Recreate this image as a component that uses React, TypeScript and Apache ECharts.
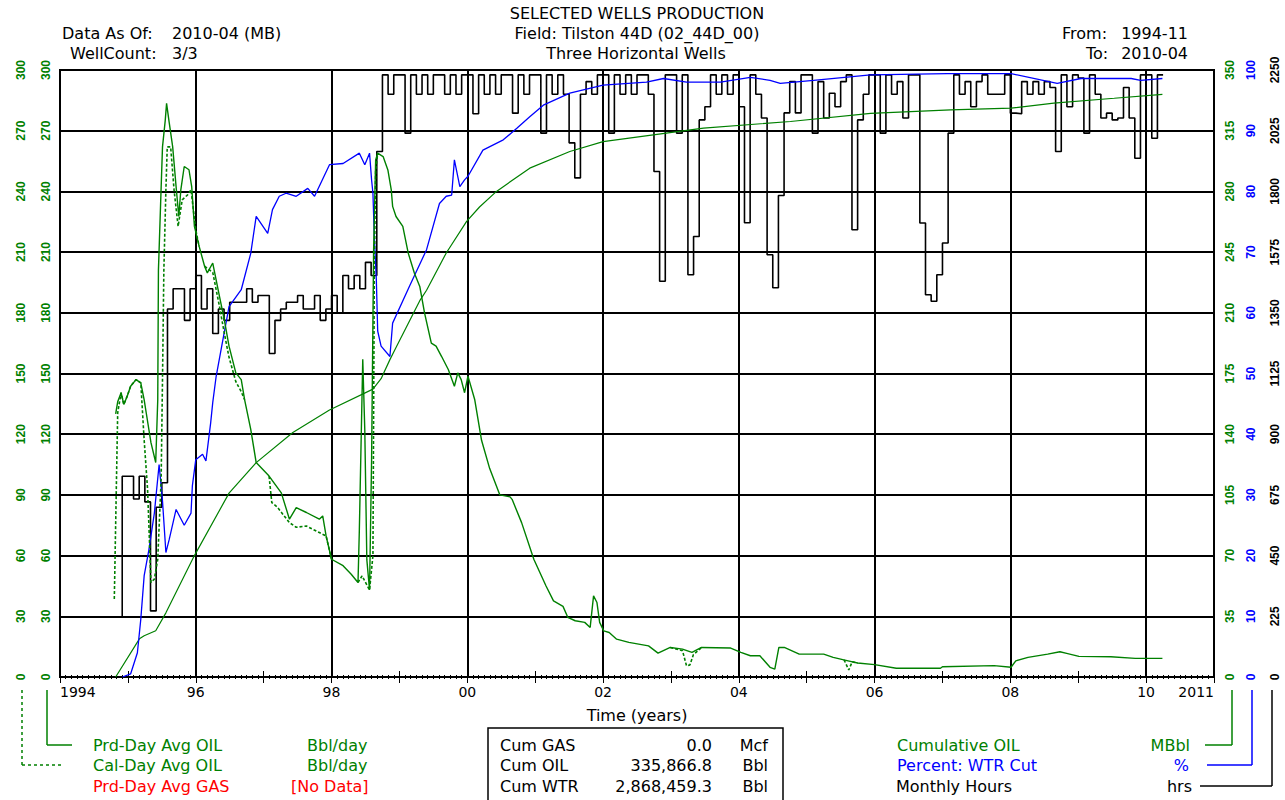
import React, { useEffect, useRef } from "react";
import * as echarts from "echarts";

const GREEN = "#008000";
const BLUE = "#0000ff";
const RED = "#ff0000";
const FONT = '"DejaVu Sans"';

// x-axis tick labels
const xTickYears = [1994, 1996, 1998, 2000, 2002, 2004, 2006, 2008, 2010, 2011];
const xTickLabels = ["1994", "96", "98", "00", "02", "04", "06", "08", "10", "2011"];

// Prd-Day Avg OIL (Bbl/day), [decimal year, value]
const oilPrdDay: [number, number][] = [
  [1994.82, 130], [1994.85, 136], [1994.9, 140.5], [1994.94, 134.7], [1994.99, 138.8], [1995.04, 143.7],
  [1995.12, 147], [1995.19, 145.4], [1995.24, 137], [1995.27, 130.6], [1995.34, 115.8], [1995.41, 106],
  [1995.44, 137], [1995.45, 201], [1995.49, 242], [1995.51, 262], [1995.55, 275], [1995.57, 283.5],
  [1995.61, 273.7], [1995.66, 262], [1995.71, 242.4], [1995.75, 227.6], [1995.78, 240.8], [1995.83, 252.3],
  [1995.9, 250.7], [1995.94, 242.4], [1995.98, 222.7], [1996.05, 212.8], [1996.13, 203], [1996.17, 199.7],
  [1996.25, 204.6], [1996.35, 188], [1996.42, 176.6], [1996.49, 163.5], [1996.59, 150.3], [1996.67, 147],
  [1996.72, 137], [1996.81, 122.4], [1996.89, 106], [1997.08, 99.3], [1997.26, 91], [1997.38, 78],
  [1997.48, 83.7], [1997.63, 81.3], [1997.82, 78], [1997.87, 79.6], [1997.92, 69.7], [1998.0, 58.2],
  [1998.17, 55], [1998.29, 50.8], [1998.39, 46.7], [1998.41, 73], [1998.46, 157], [1998.49, 122],
  [1998.52, 58], [1998.56, 43], [1998.59, 107], [1998.62, 211], [1998.65, 255.6], [1998.68, 258.9],
  [1998.76, 257.2], [1998.83, 250.6], [1998.88, 240.8], [1998.9, 232.6], [1998.95, 227.6], [1999.05, 222.7],
  [1999.13, 209.5], [1999.22, 199.7], [1999.3, 193], [1999.37, 180], [1999.47, 165], [1999.54, 163.5],
  [1999.62, 158.5], [1999.72, 152], [1999.81, 143.7], [1999.86, 150.3], [1999.91, 147], [1999.96, 140.5],
  [2000.01, 148.7], [2000.11, 137], [2000.21, 117], [2000.33, 103], [2000.48, 90], [2000.63, 89],
  [2000.66, 87.8], [2000.8, 76.3], [2000.98, 58.2], [2001.16, 45], [2001.27, 37.6], [2001.41, 34.9],
  [2001.48, 29.5], [2001.59, 27.8], [2001.73, 27], [2001.81, 24.5], [2001.86, 40.1], [2001.91, 36.8],
  [2001.95, 27], [2002.01, 22.8], [2002.09, 22], [2002.2, 18.7], [2002.38, 17.1], [2002.67, 15.4],
  [2002.81, 11.8], [2002.99, 14.6], [2003.17, 13.8], [2003.31, 12.2], [2003.45, 14.6], [2003.88, 14.3],
  [2004.03, 12.2], [2004.17, 10.5], [2004.31, 10.5], [2004.46, 4.8], [2004.53, 3.9], [2004.59, 14.6],
  [2004.67, 14.6], [2004.89, 11.3], [2005.25, 11.3], [2005.39, 9.7], [2005.61, 8], [2005.75, 6.9],
  [2006.0, 6.1], [2006.32, 4.3], [2006.97, 4.3], [2007.0, 5.1], [2007.76, 5.6], [2008.01, 4.8],
  [2008.08, 8], [2008.26, 9.7], [2008.55, 11.3], [2008.73, 12.5], [2008.83, 11.7], [2009.01, 10.2],
  [2009.48, 10], [2009.84, 9.2], [2010.24, 9.2],
];

// Cal-Day Avg OIL (Bbl/day): segments where it departs from the Prd-Day curve
const oilCalDaySegments: [number, number][][] = [
  [
    [1994.8, 38.5], [1994.85, 130.6], [1994.9, 140.5], [1994.94, 134.7], [1994.99, 138.8], [1995.04, 143.7],
    [1995.12, 147], [1995.19, 145.4], [1995.24, 117], [1995.29, 92.8], [1995.34, 46.7], [1995.39, 48.4],
    [1995.44, 58.2], [1995.49, 97.7], [1995.51, 147], [1995.53, 201], [1995.56, 240.8], [1995.58, 262],
    [1995.63, 262], [1995.68, 240.8], [1995.74, 222.7], [1995.8, 235.8], [1995.88, 238.3], [1995.93, 240.8],
    [1995.97, 229.3], [1996.0, 221], [1996.05, 212.8],
  ],
  [[1996.13, 203], [1996.25, 200], [1996.35, 183], [1996.42, 170], [1996.49, 158], [1996.59, 146], [1996.67, 141], [1996.72, 137]],
  [[1997.08, 99.3], [1997.12, 86.2], [1997.2, 84], [1997.38, 76.3], [1997.48, 74], [1997.63, 74.6], [1997.82, 71.4], [1997.92, 69.7], [1998.0, 58.2]],
  [[1998.39, 46.7], [1998.45, 50], [1998.56, 43], [1998.61, 60], [1998.63, 200], [1998.65, 250], [1998.68, 258.9]],
  [[2002.99, 14.6], [2003.17, 13], [2003.23, 5.5], [2003.28, 6], [2003.33, 11], [2003.45, 14.6]],
  [[2005.55, 8.5], [2005.62, 3.5], [2005.67, 7.5], [2005.75, 6.9]],
];

// Cumulative OIL (MBbl)
const cumOil: [number, number][] = [
  [1994.82, 0], [1995.17, 22], [1995.24, 23.8], [1995.41, 26.7], [1995.56, 37], [1995.98, 70],
  [1996.49, 106], [1996.89, 123.6], [1997.43, 141], [1997.97, 154], [1998.61, 166], [1998.73, 172],
  [1998.86, 183], [1998.95, 190], [1999.3, 217], [1999.4, 223], [1999.69, 244.5], [1999.99, 262.7],
  [2000.18, 271], [2000.43, 280], [2000.92, 293.4], [2001.51, 303], [2002.0, 308.7], [2002.74, 312.6],
  [2003.48, 316.5], [2004.76, 320.3], [2005.94, 325], [2007.12, 327], [2008.01, 328], [2008.64, 330.9],
  [2009.53, 333.7], [2010.24, 336],
];

// Percent WTR Cut (%)
const waterCut: [number, number][] = [
  [1994.92, 0], [1995.04, 0.5], [1995.14, 4], [1995.19, 9.5], [1995.24, 16.7], [1995.31, 21],
  [1995.39, 27], [1995.46, 35], [1995.51, 29], [1995.56, 20.5], [1995.61, 22.7], [1995.71, 27.6],
  [1995.83, 25], [1995.93, 27], [1995.95, 31.5], [1996.0, 35.8], [1996.1, 36.7], [1996.15, 35.6],
  [1996.22, 41.9], [1996.25, 45.2], [1996.3, 49.5], [1996.4, 55.6], [1996.49, 61], [1996.67, 63.8],
  [1996.81, 69.8], [1996.89, 75.9], [1997.06, 73.1], [1997.13, 77], [1997.23, 79.2], [1997.33, 79.7],
  [1997.48, 79.2], [1997.65, 80.5], [1997.75, 79.2], [1997.97, 84.4], [1998.17, 84.6], [1998.41, 86.3],
  [1998.49, 84.4], [1998.56, 86.3], [1998.59, 81.9], [1998.61, 79.7], [1998.63, 72.6], [1998.66, 65.5],
  [1998.68, 57], [1998.73, 54.5], [1998.86, 52.8], [1998.9, 58.3], [1999.15, 64.4], [1999.4, 70.4],
  [1999.59, 78], [1999.69, 79.2], [1999.77, 79.4], [1999.81, 85.2], [1999.89, 80.8], [1999.96, 81.9],
  [2000.01, 82.5], [2000.23, 86.8], [2000.53, 88.5], [2000.73, 90.4], [2000.92, 92.3], [2001.12, 94.2],
  [2001.51, 96.2], [2002.0, 97.5], [2002.64, 98], [2002.89, 98.6], [2003.23, 98], [2003.73, 98],
  [2004.17, 98.8], [2004.46, 98.3], [2004.61, 97.8], [2005.1, 98.3], [2005.94, 99.2], [2007.07, 99.4],
  [2008.01, 99.4], [2008.69, 97.8], [2009.04, 98.6], [2009.78, 98.6], [2009.92, 98.3], [2010.24, 98.6],
];

// Monthly Hours (hrs), one value per month from 1994-11 to 2010-04
const hoursStartYear = 1994;
const hoursStartMonth = 11;
const monthlyHours: number[] = [
  222, 744, // 1994 Nov-Dec
  744, 660, 744, 649, 245, 629, 720, 1364, 1439, 1439, 1322, 1439, // 1995
  1488, 1364, 1439, 1273, 1364, 1322, 1389, 1389, 1389, 1439, 1389, 1414, // 1996
  1414, 1199, 1322, 1364, 1389, 1389, 1414, 1364, 1364, 1414, 1322, 1364, // 1997
  1414, 1350, 1488, 1439, 1488, 1439, 1537, 1488, 1948, 2232, 2160, 2232, // 1998
  2232, 2016, 2232, 2160, 2232, 2160, 2232, 2232, 2160, 2232, 2160, 2232, // 1999
  2232, 2088, 2232, 2160, 2232, 2160, 2232, 2232, 2090, 2232, 2160, 2232, // 2000
  2232, 2016, 2232, 2160, 2232, 2160, 1980, 1850, 2160, 2207, 2160, 2232, // 2001
  2232, 2016, 2232, 2160, 2232, 2160, 2232, 2232, 2160, 1874, 1467, 2232, // 2002
  2232, 2016, 2232, 1491, 1633, 2065, 2114, 2232, 2160, 2232, 2160, 2232, // 2003
  2114, 1684, 2232, 2160, 2072, 1565, 1443, 1785, 2091, 2207, 2091, 2232, // 2004
  2232, 2016, 2207, 2072, 2164, 2114, 2207, 2232, 1658, 2065, 2160, 2232, // 2005
  2232, 2016, 2232, 2160, 2207, 2072, 2232, 2232, 1683, 1417, 1393, 1491, // 2006
  1609, 2016, 2232, 2160, 2207, 2114, 2207, 2232, 2160, 2160, 2160, 2232, // 2007
  2090, 2088, 2207, 2160, 2207, 2160, 2207, 2185, 1948, 2232, 2114, 2232, // 2008
  2220, 2016, 2232, 2160, 2072, 2090, 2065, 2072, 2185, 2072, 1923, 2232, // 2009
  2232, 1997, 2232, 2232, // 2010 Jan-Apr
];

const cumTable = [
  ["Cum GAS", "0.0", "Mcf"],
  ["Cum OIL", "335,866.8", "Bbl"],
  ["Cum WTR", "2,868,459.3", "Bbl"],
];

function txt(text: string, x: number, y: number, fill: string, align = "left", size = 16) {
  return {
    type: "text",
    x,
    y,
    silent: true,
    style: {
      text,
      fill,
      font: `${size}px ${FONT}`,
      textAlign: align,
      textVerticalAlign: "middle",
    },
  };
}

function ln(x1: number, y1: number, x2: number, y2: number, stroke: string, dash?: number[]) {
  return {
    type: "line",
    silent: true,
    shape: { x1, y1, x2, y2 },
    style: { stroke, lineWidth: 1.5, lineDash: dash },
  };
}

export default function App() {
  const ref = useRef<HTMLDivElement>(null);

  useEffect(() => {
    if (!ref.current) return;
    const chart = echarts.init(ref.current, undefined, { renderer: "svg" });

    const hoursData = monthlyHours.map((v, i) => [hoursStartYear + (hoursStartMonth - 1 + i) / 12, v]);
    const calData: any[] = [];
    oilCalDaySegments.forEach((seg, i) => {
      if (i > 0) calData.push([seg[0][0] - 0.001, "-"]);
      seg.forEach((p) => calData.push(p));
    });

    const xLabel = (v: number) => {
      const idx = xTickYears.findIndex((y) => Math.abs(y - v) < 1e-6);
      return idx >= 0 ? xTickLabels[idx] : "";
    };

    const yLabelBase = {
      rotate: 90,
      fontSize: 12,
      fontWeight: "bold",
      fontFamily: '"Liberation Sans"',
      margin: 2,
      formatter: (v: number) => String(v),
    };
    const hiddenAxisParts = {
      axisLine: { show: false },
      axisTick: { show: false },
    };
    const xCommon = {
      type: "value",
      min: 1994,
      max: 2011,
      interval: 1,
      axisLine: { show: true, lineStyle: { color: "#000", width: 2 } },
      axisTick: { show: true, inside: true, length: 6, lineStyle: { color: "#000", width: 1 } },
      minorTick: { show: true, splitNumber: 12, length: 2, lineStyle: { color: "#000", width: 1 } },
      splitLine: { show: false },
    };

    const option: any = {
      animation: false,
      backgroundColor: "#fff",
      grid: {
        left: 60,
        right: 71,
        top: 70,
        bottom: 123,
        show: true,
        borderColor: "#000",
        borderWidth: 2,
      },
      xAxis: [
        {
          ...xCommon,
          position: "bottom",
          axisLabel: {
            formatter: xLabel,
            color: "#000",
            fontSize: 14,
            fontFamily: FONT,
            margin: 8,
            showMinLabel: true,
            showMaxLabel: true,
            alignMinLabel: "left",
            alignMaxLabel: "right",
          },
          name: "Time (years)",
          nameLocation: "middle",
          nameGap: 30,
          nameTextStyle: { color: "#000", fontSize: 16, fontFamily: FONT },
        },
        {
          type: "value",
          position: "bottom",
          min: 1994,
          max: 2011,
          interval: 2,
          ...hiddenAxisParts,
          axisLabel: { show: false },
          splitLine: { show: true, lineStyle: { color: "#000", width: 2 } },
        },
        {
          ...xCommon,
          position: "top",
          axisLabel: { show: false },
        },
      ],
      yAxis: [
        {
          type: "value", position: "left", offset: 6, min: 0, max: 300, interval: 30,
          ...hiddenAxisParts,
          axisLabel: { ...yLabelBase, color: GREEN },
          splitLine: { show: true, lineStyle: { color: "#000", width: 2 } },
        },
        {
          type: "value", position: "left", offset: 31, min: 0, max: 300, interval: 30,
          ...hiddenAxisParts,
          axisLabel: { ...yLabelBase, color: GREEN },
          splitLine: { show: false },
        },
        {
          type: "value", position: "right", offset: 8, min: 0, max: 350, interval: 35,
          ...hiddenAxisParts,
          axisLabel: { ...yLabelBase, color: GREEN },
          splitLine: { show: false },
        },
        {
          type: "value", position: "right", offset: 29, min: 0, max: 100, interval: 10,
          ...hiddenAxisParts,
          axisLabel: { ...yLabelBase, color: BLUE },
          splitLine: { show: false },
        },
        {
          type: "value", position: "right", offset: 53, min: 0, max: 2250, interval: 225,
          ...hiddenAxisParts,
          axisLabel: { ...yLabelBase, color: "#000" },
          splitLine: { show: false },
        },
      ],
      series: [
        {
          name: "Monthly Hours", type: "line", xAxisIndex: 0, yAxisIndex: 4, data: hoursData,
          step: "end", symbol: "none", lineStyle: { color: "#000", width: 1.6 }, z: 2,
        },
        {
          name: "Cumulative OIL", type: "line", xAxisIndex: 0, yAxisIndex: 2, data: cumOil,
          symbol: "none", lineStyle: { color: GREEN, width: 1.2 }, z: 3,
        },
        {
          name: "Percent: WTR Cut", type: "line", xAxisIndex: 0, yAxisIndex: 3, data: waterCut,
          symbol: "none", lineStyle: { color: BLUE, width: 1.3 }, z: 4,
        },
        {
          name: "Prd-Day Avg OIL", type: "line", xAxisIndex: 0, yAxisIndex: 0, data: oilPrdDay,
          symbol: "none", lineStyle: { color: GREEN, width: 1.4 }, z: 5,
        },
        {
          name: "Cal-Day Avg OIL", type: "line", xAxisIndex: 0, yAxisIndex: 1, data: calData,
          symbol: "none", connectNulls: false, lineStyle: { color: GREEN, width: 1.6, type: [3, 2] }, z: 6,
        },
      ],
      graphic: [
        // header
        txt("SELECTED WELLS PRODUCTION", 637, 13, "#000", "center"),
        txt("Field: Tilston 44D (02_44D_00)", 637, 33, "#000", "center"),
        txt("Three Horizontal Wells", 636, 53, "#000", "center"),
        txt("Data As Of:", 62, 33, "#000", "left"),
        txt("2010-04 (MB)", 172, 33, "#000", "left"),
        txt("WellCount:", 70, 53, "#000", "left"),
        txt("3/3", 172, 53, "#000", "left"),
        txt("From:", 1062, 33, "#000", "left"),
        txt("1994-11", 1188, 33, "#000", "right"),
        txt("To:", 1086, 53, "#000", "left"),
        txt("2010-04", 1188, 53, "#000", "right"),
        // left legend
        txt("Prd-Day Avg OIL", 93, 745, GREEN),
        txt("Bbl/day", 307, 745, GREEN),
        txt("Cal-Day Avg OIL", 93, 765, GREEN),
        txt("Bbl/day", 307, 765, GREEN),
        txt("Prd-Day Avg GAS", 93, 786, RED),
        txt("[No Data]", 291, 786, RED),
        ln(22, 690, 22, 765, GREEN, [3, 3]),
        ln(22, 765, 62, 765, GREEN, [3, 3]),
        ln(47, 690, 47, 745, GREEN),
        ln(47, 745, 72, 745, GREEN),
        // cumulative box
        {
          type: "rect",
          silent: true,
          shape: { x: 488, y: 728, width: 295, height: 80 },
          style: { fill: "none", stroke: "#000", lineWidth: 1.5 },
        },
        ...cumTable.flatMap((row, i) => [
          txt(row[0], 500, 745 + i * 20.5, "#000"),
          txt(row[1], 712, 745 + i * 20.5, "#000", "right"),
          txt(row[2], 768, 745 + i * 20.5, "#000", "right"),
        ]),
        // right legend
        txt("Cumulative OIL", 897, 745, GREEN),
        txt("MBbl", 1190, 745, GREEN, "right"),
        txt("Percent: WTR Cut", 897, 765, BLUE),
        txt("%", 1189, 765, BLUE, "right"),
        txt("Monthly Hours", 896, 786, "#000"),
        txt("hrs", 1192, 786, "#000", "right"),
        ln(1232, 690, 1232, 745, GREEN),
        ln(1205, 745, 1232, 745, GREEN),
        ln(1252, 690, 1252, 765, BLUE),
        ln(1207, 765, 1252, 765, BLUE),
        ln(1272, 690, 1272, 786, "#000"),
        ln(1200, 786, 1272, 786, "#000"),
      ],
    };

    chart.setOption(option);
    return () => chart.dispose();
  }, []);

  return (
    <div
      ref={ref}
      style={{ position: "absolute", left: 0, top: 0, width: 1285, height: 800, background: "#fff" }}
    />
  );
}
